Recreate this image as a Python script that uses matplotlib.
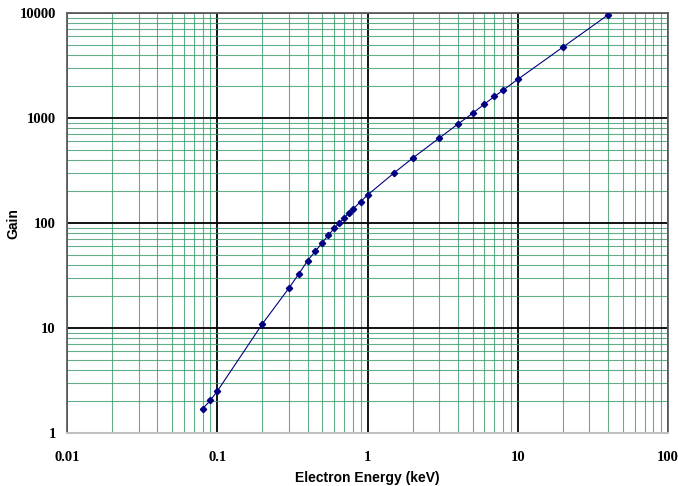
import matplotlib
matplotlib.use("Agg")
import matplotlib.pyplot as plt
from matplotlib.ticker import LogLocator, FixedLocator, NullFormatter

energy_kev = [0.08, 0.09, 0.1, 0.2, 0.3, 0.35, 0.4, 0.45, 0.5, 0.55, 0.6, 0.65,
              0.7, 0.75, 0.8, 0.9, 1.0, 1.5, 2.0, 3.0, 4.0, 5.0, 6.0, 7.0, 8.0,
              10.0, 20.0, 40.0]
gain = [1.70, 2.05, 2.5, 11.0, 24, 33, 44, 54, 65, 77, 89, 100,
        112, 124, 136, 160, 185, 300, 416, 645, 877, 1110, 1360, 1610, 1850,
        2340, 4750, 9650]

x_ticks = [0.01, 0.1, 1, 10, 100]
x_labels = ["0.01", "0.1", "1", "10", "100"]
y_ticks = [1, 10, 100, 1000, 10000]
y_labels = ["1", "10", "100", "1000", "10000"]

fig = plt.figure(figsize=(6.78, 4.86), dpi=100)
ax = fig.add_axes([0.0988, 0.109, 0.8865, 0.864])
ax.set_xscale("log")
ax.set_yscale("log")
ax.set_xlim(0.01, 100)
ax.set_ylim(1, 10000)

ax.xaxis.set_minor_locator(LogLocator(base=10, subs=range(2, 10)))
ax.yaxis.set_minor_locator(LogLocator(base=10, subs=range(2, 10)))
ax.xaxis.set_minor_formatter(NullFormatter())
ax.yaxis.set_minor_formatter(NullFormatter())
ax.xaxis.set_major_locator(FixedLocator(x_ticks))
ax.yaxis.set_major_locator(FixedLocator(y_ticks))

ax.grid(which="minor", color="#3a9a6a", linewidth=0.8, alpha=0.8)
ax.grid(which="major", color="black", linewidth=1.3)
ax.set_axisbelow(True)

ax.plot(energy_kev, gain, color="#000080", linewidth=0.8, marker="D",
        markersize=3.2, markerfacecolor="#000080", markeredgecolor="#000080", zorder=3)

ax.set_xticks(x_ticks)
ax.set_xticklabels(x_labels)
ax.set_yticks(y_ticks)
ax.set_yticklabels(y_labels)
ax.tick_params(which="both", length=0)
ax.tick_params(axis="x", pad=13)
ax.tick_params(axis="y", pad=8)
for lbl in ax.get_xticklabels() + ax.get_yticklabels():
    lbl.set_fontfamily("Liberation Serif")
    lbl.set_fontweight("bold")
    lbl.set_fontsize(10.5)

ax.set_xlabel("Electron Energy (keV)", fontfamily="Liberation Sans",
              fontweight="bold", fontsize=10, labelpad=5)
ax.set_ylabel("Gain", fontfamily="Liberation Sans", fontweight="bold",
              fontsize=10)
ax.yaxis.set_label_coords(-0.077, 0.5)

for side in ["left", "top", "right"]:
    ax.spines[side].set_color("#606060")
    ax.spines[side].set_linewidth(1.3)
ax.spines["bottom"].set_color("#c0c0c0")
ax.spines["bottom"].set_linewidth(1.5)

fig.savefig("out.png", dpi=100)
